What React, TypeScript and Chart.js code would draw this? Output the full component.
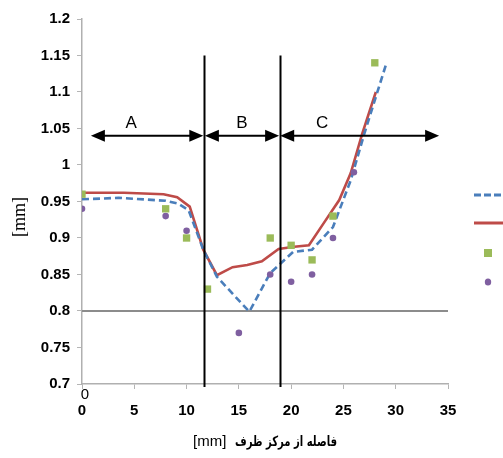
import React, { useEffect, useRef } from "react";
import { Chart, registerables } from "chart.js";

Chart.register(...registerables);

// Blue dashed series
const blueX = [0, 3.5, 8, 9.2, 10.2, 11.6, 12.9, 16, 18, 20.2, 22, 24, 25.7, 27, 29.1];
const blueY = [0.953, 0.955, 0.951, 0.947, 0.938, 0.884, 0.847, 0.799, 0.852, 0.881, 0.884, 0.915, 0.979, 1.043, 1.139];
// Red solid series
const redX = [0, 4, 7.8, 9.1, 10.3, 11.6, 12.9, 14.4, 15.8, 17.2, 18.8, 20.3, 21.7, 23.1, 24.6, 25.7, 26.8, 28.1];
const redY = [0.962, 0.962, 0.96, 0.956, 0.943, 0.884, 0.849, 0.86, 0.863, 0.868, 0.885, 0.888, 0.89, 0.92, 0.952, 0.989, 1.043, 1.1];
// Green squares
const greenX = [0, 8, 10, 12, 18, 20, 22, 24, 28];
const greenY = [0.96, 0.94, 0.9, 0.83, 0.9, 0.89, 0.87, 0.93, 1.14];
// Purple circles
const purpleX = [0, 8, 10, 15, 18, 20, 22, 24, 26];
const purpleY = [0.94, 0.93, 0.91, 0.77, 0.85, 0.84, 0.85, 0.9, 0.99];
// Reference line
const refX = [0, 35];
const refY = [0.8, 0.8];

// Zones
const zoneBounds = [11.65, 18.9];
const zoneLabels = ["A", "B", "C"];
const zoneArrows = [
  [0.85, 11.6],
  [11.75, 18.85],
  [18.95, 34.15],
];
const arrowLevel = 1.04;
const zoneLineTop = 1.15;

const yTickLabels = ["0.7", "0.75", "0.8", "0.85", "0.9", "0.95", "1", "1.05", "1.1", "1.15", "1.2"];
const xTickLabels = ["0", "5", "10", "15", "20", "25", "30", "35"];

const BLUE = "#4a7ebb";
const RED = "#be4b48";
const GREEN = "#9bbb59";
const PURPLE = "#7f5fa0";

const pts = (xs: number[], ys: number[]) => xs.map((x, i) => ({ x, y: ys[i] }));

const overlay = {
  id: "overlay",
  afterDatasetsDraw(chart: any) {
    const ctx = chart.ctx;
    const xs = chart.scales.x;
    const ys = chart.scales.y;
    ctx.save();
    ctx.strokeStyle = "#000";
    ctx.lineWidth = 2;
    zoneBounds.forEach((b) => {
      const px = Math.round(xs.getPixelForValue(b)) + 0.5;
      ctx.beginPath();
      ctx.moveTo(px, ys.getPixelForValue(zoneLineTop));
      ctx.lineTo(px, chart.chartArea.bottom + 3);
      ctx.stroke();
    });
    const ay = ys.getPixelForValue(arrowLevel);
    const head = (tipX: number, dir: number) => {
      ctx.beginPath();
      ctx.moveTo(tipX, ay);
      ctx.lineTo(tipX - dir * 14, ay - 6);
      ctx.lineTo(tipX - dir * 14, ay + 6);
      ctx.closePath();
      ctx.fill();
    };
    ctx.fillStyle = "#000";
    zoneArrows.forEach(([a, b], i) => {
      const x1 = xs.getPixelForValue(a);
      const x2 = xs.getPixelForValue(b);
      ctx.beginPath();
      ctx.moveTo(x1 + 8, ay);
      ctx.lineTo(x2 - 8, ay);
      ctx.stroke();
      head(x1, -1);
      head(x2, 1);
      ctx.font = "17px 'Liberation Sans', Arial, sans-serif";
      ctx.textAlign = "center";
      ctx.textBaseline = "middle";
      const cx = i === 2 ? x1 + 42 : (x1 + x2) / 2 - (i === 0 ? 16 : 0);
      ctx.fillText(zoneLabels[i], cx, ay - 12);
    });
    ctx.restore();
  },
  afterDraw(chart: any) {
    const ctx = chart.ctx;
    const ca = chart.chartArea;
    ctx.save();
    ctx.fillStyle = "#000";
    ctx.font = "15px 'Liberation Sans', Arial, sans-serif";
    ctx.textAlign = "center";
    ctx.textBaseline = "middle";
    ctx.fillText("0", ca.left + 3, ca.bottom + 11);
    // y title
    ctx.save();
    ctx.translate(20, 217);
    ctx.rotate(-Math.PI / 2);
    ctx.font = "18px 'Liberation Serif', 'Times New Roman', serif";
    ctx.textAlign = "center";
    ctx.textBaseline = "middle";
    ctx.fillText("[mm]", 0, 0);
    ctx.restore();
    // x title
    ctx.textBaseline = "middle";
    ctx.textAlign = "left";
    ctx.font = "15px 'Liberation Sans', Arial, sans-serif";
    ctx.fillText("[mm]", 193, 442);
    ctx.font = "bold 14px 'DejaVu Sans', sans-serif";
    const fa = "فاصله از مرکز ظرف";
    const w = ctx.measureText(fa).width;
    const target = 102;
    ctx.save();
    ctx.translate(235, 442);
    ctx.scale(target / w, 1);
    ctx.textAlign = "left";
    ctx.fillText(fa, 0, 0);
    ctx.restore();
    // legend markers
    ctx.lineWidth = 3;
    ctx.strokeStyle = BLUE;
    ctx.setLineDash([7, 3]);
    ctx.beginPath();
    ctx.moveTo(474, 195);
    ctx.lineTo(503, 195);
    ctx.stroke();
    ctx.setLineDash([]);
    ctx.strokeStyle = RED;
    ctx.beginPath();
    ctx.moveTo(474, 223);
    ctx.lineTo(503, 223);
    ctx.stroke();
    ctx.fillStyle = GREEN;
    ctx.fillRect(484, 249, 8, 8);
    ctx.fillStyle = PURPLE;
    ctx.beginPath();
    ctx.ellipse(488, 282, 3.2, 3.6, 0, 0, Math.PI * 2);
    ctx.fill();
    ctx.restore();
  },
};

export default function App() {
  const ref = useRef<HTMLCanvasElement>(null);
  useEffect(() => {
    const chart = new Chart(ref.current as HTMLCanvasElement, {
      type: "scatter",
      data: {
        datasets: [
          {
            label: "green",
            data: pts(greenX, greenY),
            pointStyle: "rect",
            pointRadius: 5.2,
            backgroundColor: GREEN,
            borderColor: GREEN,
            borderWidth: 0,
            order: 0,
          },
          {
            label: "purple",
            data: pts(purpleX, purpleY),
            pointStyle: "circle",
            pointRadius: 3.3,
            backgroundColor: PURPLE,
            borderColor: PURPLE,
            borderWidth: 0,
            order: 0,
          },
          {
            label: "blue",
            data: pts(blueX, blueY),
            showLine: true,
            borderColor: BLUE,
            borderWidth: 2.6,
            borderDash: [7, 4],
            pointRadius: 0,
            tension: 0,
            order: 1,
          } as any,
          {
            label: "red",
            data: pts(redX, redY),
            showLine: true,
            borderColor: RED,
            borderWidth: 2.6,
            pointRadius: 0,
            tension: 0,
            order: 1,
          } as any,
          {
            label: "ref",
            data: pts(refX, refY),
            showLine: true,
            borderColor: "#8c8c8c",
            borderWidth: 2,
            pointRadius: 0,
            order: 2,
          } as any,
        ],
      },
      options: {
        animation: false,
        responsive: false,
        layout: { padding: { left: 0, right: 55, top: 19, bottom: 0 } },
        plugins: { legend: { display: false }, tooltip: { enabled: false } },
        scales: {
          x: {
            type: "linear",
            min: 0,
            max: 35,
            afterFit: (s: any) => {
              s.height = 74;
            },
            ticks: {
              stepSize: 5,
              padding: 13,
              color: "#000",
              font: { family: "'Liberation Sans', Arial, sans-serif", size: 15, weight: "bold" },
              callback: (v: any) => {
                const i = Math.round(Number(v) / 5);
                return xTickLabels[i] ?? "";
              },
            },
            grid: { drawOnChartArea: false, tickLength: 5, color: "#b5b5b5", lineWidth: 1 },
            border: { color: "#b0b0b0", width: 1.5 },
          },
          y: {
            type: "linear",
            min: 0.7,
            max: 1.2,
            afterFit: (s: any) => {
              s.width = 82;
            },
            ticks: {
              stepSize: 0.05,
              padding: 7,
              color: "#000",
              font: { family: "'Liberation Sans', Arial, sans-serif", size: 15, weight: "bold" },
              callback: (v: any) => {
                const i = Math.round((Number(v) - 0.7) / 0.05);
                return yTickLabels[i] ?? "";
              },
            },
            grid: { drawOnChartArea: false, tickLength: 5, color: "#b5b5b5", lineWidth: 1 },
            border: { color: "#b0b0b0", width: 1.5 },
          },
        },
      } as any,
      plugins: [overlay],
    });
    return () => chart.destroy();
  }, []);
  return (
    <div style={{ position: "fixed", left: 0, top: 0, width: 503, height: 458, background: "#fff" }}>
      <canvas ref={ref} width={503} height={458} style={{ width: 503, height: 458 }} />
    </div>
  );
}
